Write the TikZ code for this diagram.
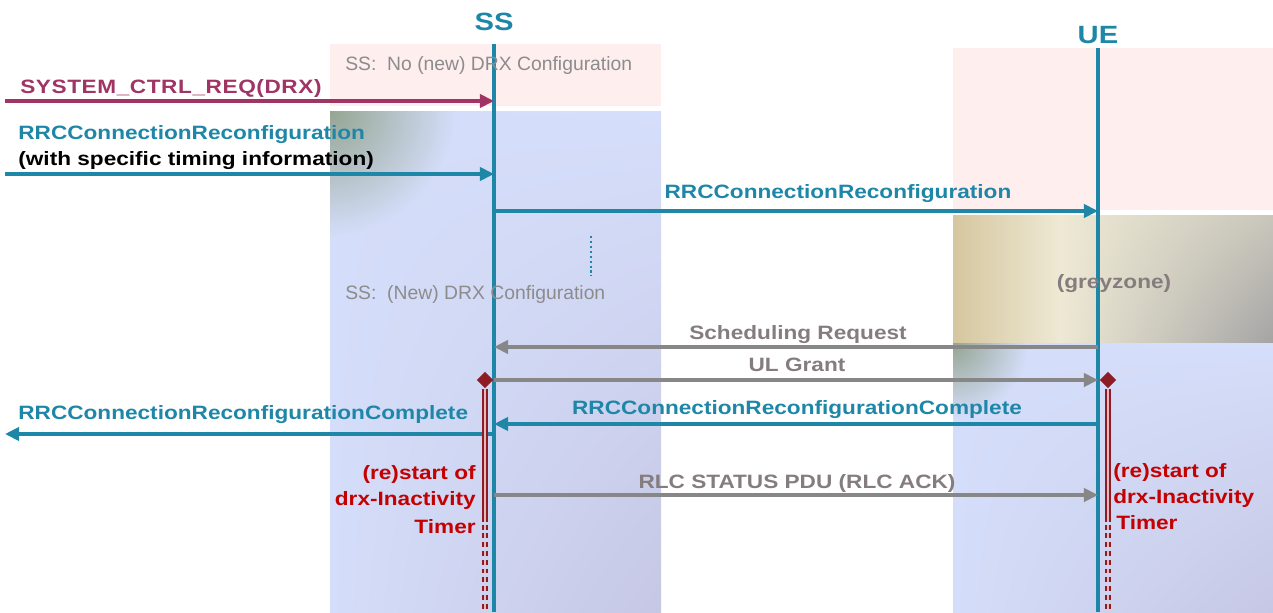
\documentclass[tikz,border=0pt]{standalone}
\usepackage{fontspec}
\setmainfont{Liberation Sans}
\newfontfamily\labfont{Liberation Sans}[FakeStretch=1.17]
\usetikzlibrary{arrows.meta,shapes.geometric,shadings}
\definecolor{teal1}{HTML}{1E87A8}
\definecolor{maroon1}{HTML}{A03565}
\definecolor{grayline}{HTML}{878787}
\definecolor{graytext}{HTML}{857D7D}
\definecolor{notegray}{HTML}{8C8C8C}
\definecolor{pink1}{HTML}{FFEEEE}
\definecolor{blue1}{HTML}{D4DDF9}
\definecolor{blue1b}{HTML}{D5DEFA}
\definecolor{blue2}{HTML}{C6C7E4}
\definecolor{cornergreen}{HTML}{95A592}
\definecolor{tan1}{HTML}{D5C69E}
\definecolor{cream}{HTML}{EEE9D4}
\definecolor{gz3}{HTML}{C9C6BB}
\definecolor{gzdark}{HTML}{A4A4A4}
\definecolor{timerred}{HTML}{C40000}
\definecolor{barred}{HTML}{8E1C24}
\definecolor{barpale}{HTML}{E6B8BC}
\begin{document}
\begin{tikzpicture}[x=0.02cm,y=-0.02cm,
  lab/.style={font=\labfont\fontsize{11}{13}\selectfont\bfseries, inner sep=0pt},
  note/.style={font=\fontsize{11}{13}\selectfont, text=notegray, inner sep=0pt},
  titlelab/.style={font=\labfont\fontsize{14.2}{16}\selectfont\bfseries, text=teal1, inner sep=0pt},
  lifeline/.style={draw=teal1, line width=1.8pt},
  msg/.style={line width=2.2pt, -{Triangle[length=8pt,width=7.5pt]}},
  tealmsg/.style={msg, draw=teal1},
  graymsg/.style={msg, draw=grayline, line width=2.4pt},
  timerbar/.style={draw=barred, double=barpale, double distance=1.5pt, line width=1.2pt},
  timerdash/.style={timerbar, dash pattern=on 2.8pt off 2.2pt},
  timerlab/.style={lab, text=timerred},
  diam/.style={diamond, fill=barred, minimum size=9.5pt, inner sep=0pt}]
\useasboundingbox (0,0) rectangle (1273,612);
% ---- background zones
\fill[pink1] (330,44) rectangle (661,106);
\shade[upper left=blue1, upper right=blue1b, lower left=blue1, lower right=blue2] (330,111) rectangle (661,612);
\begin{scope}
  \clip (330,111) rectangle (661,612);
  \shade[inner color=cornergreen, outer color=blue1] (330,111) circle (125);
\end{scope}
\fill[pink1] (953,48) rectangle (1273,210);
\shade[left color=tan1, right color=cream] (953,215) rectangle (1060,343);
\shade[upper left=cream, lower left=cream, upper right=gz3, lower right=gzdark] (1060,215) rectangle (1273,343);
\shade[upper left=blue1, upper right=blue1b, lower left=blue1, lower right=blue2] (953,343) rectangle (1273,612);
\begin{scope}
  \clip (953,343) rectangle (1273,612);
  \shade[inner color=cornergreen, outer color=blue1] (953,343) circle (75);
\end{scope}
% ---- coordinates
\coordinate (ss-top) at (494,44);  \coordinate (ss-bot) at (494,612);
\coordinate (ue-top) at (1098,48); \coordinate (ue-bot) at (1098,612);
\coordinate (l-sys) at (5,101);    \coordinate (ss-sys) at (494,101);
\coordinate (l-rrc) at (5,174);    \coordinate (ss-rrc) at (494,174);
\coordinate (ss-m1) at (494,211);  \coordinate (ue-m1) at (1098,211);
\coordinate (ss-sr) at (494,347);  \coordinate (ue-sr) at (1098,347);
\coordinate (ss-ul) at (494,380);  \coordinate (ue-ul) at (1098,380);
\coordinate (ss-cp) at (494,424);  \coordinate (ue-cp) at (1098,424);
\coordinate (ss-cpl) at (494,434); \coordinate (l-cp) at (5,434);
\coordinate (ss-rlc) at (494,495); \coordinate (ue-rlc) at (1098,495);
\coordinate (dot1) at (591,236);   \coordinate (dot2) at (591,276);
% ---- lifelines
\node[titlelab, anchor=base] (ss) at (494,31) {SS};
\node[titlelab, anchor=base] (ue) at (1098,43) {UE};
\draw[lifeline] (ss-top) -- (ss-bot);
\draw[lifeline] (ue-top) -- (ue-bot);
% ---- notes
\node[note, anchor=base west] (n1) at (345,70) {SS:\ \ No (new) DRX Configuration};
\node[note, anchor=base west] (n2) at (345,299) {SS:\ \ (New) DRX Configuration};
\node[lab, text=graytext, anchor=base] (gz) at (1114,288) {(greyzone)};
\draw[draw=teal1, line width=1.6pt, dash pattern=on 1.2pt off 1.6pt] (dot1) -- (dot2);
% ---- messages
\draw[msg, draw=maroon1] (l-sys) -- (ss-sys);
\node[lab, text=maroon1, anchor=base west] (t-sys) at (20,93) {\addfontfeature{LetterSpace=3}SYSTEM\_CTRL\_REQ(DRX)};
\draw[tealmsg] (l-rrc) -- (ss-rrc);
\node[lab, text=teal1, anchor=base west] (t-rrc1) at (18,139) {RRCConnectionReconfiguration};
\node[lab, text=black, anchor=base west] (t-rrc2) at (18,165) {(with specific timing information)};
\draw[tealmsg] (ss-m1) -- (ue-m1);
\node[lab, text=teal1, anchor=base] (t-m1) at (838,198) {RRCConnectionReconfiguration};
\draw[graymsg] (ue-sr) -- (ss-sr);
\node[lab, text=graytext, anchor=base] (t-sr) at (798,339) {Scheduling Request};
\draw[graymsg] (ss-ul) -- (ue-ul);
\node[lab, text=graytext, anchor=base] (t-ul) at (797,371) {UL Grant};
\draw[tealmsg] (ue-cp) -- (ss-cp);
\node[lab, text=teal1, anchor=base] (t-cp) at (797,414) {RRCConnectionReconfigurationComplete};
\draw[tealmsg] (ss-cpl) -- (l-cp);
\node[lab, text=teal1, anchor=base west] (t-cpl) at (18,419) {RRCConnectionReconfigurationComplete};
\draw[graymsg] (ss-rlc) -- (ue-rlc);
\node[lab, text=graytext, anchor=base] (t-rlc) at (797,488) {RLC STATUS PDU (RLC ACK)};
% ---- timers
\node[diam] (ssd) at (485,380) {};
\coordinate (ssb1) at (485,522); \coordinate (ssb2) at (485,612);
\draw[timerbar] (ssd.south) -- (ssb1);
\draw[timerdash] ([yshift=-1.5pt]ssb1) -- (ssb2);
\node[diam] (ued) at (1108,380) {};
\coordinate (ueb1) at (1108,522); \coordinate (ueb2) at (1108,612);
\draw[timerbar] (ued.south) -- (ueb1);
\draw[timerdash] ([yshift=-1.5pt]ueb1) -- (ueb2);
\node[timerlab, anchor=base east] (st1) at (476,479) {(re)start of};
\node[timerlab, anchor=base east] (st2) at (476,505) {drx-Inactivity};
\node[timerlab, anchor=base east] (st3) at (476,533) {Timer};
\node[timerlab, anchor=base west] (ut1) at (1113,477) {(re)start of};
\node[timerlab, anchor=base west] (ut2) at (1113,503) {drx-Inactivity};
\node[timerlab, anchor=base west] (ut3) at (1116,529) {Timer};
\end{tikzpicture}
\end{document}
